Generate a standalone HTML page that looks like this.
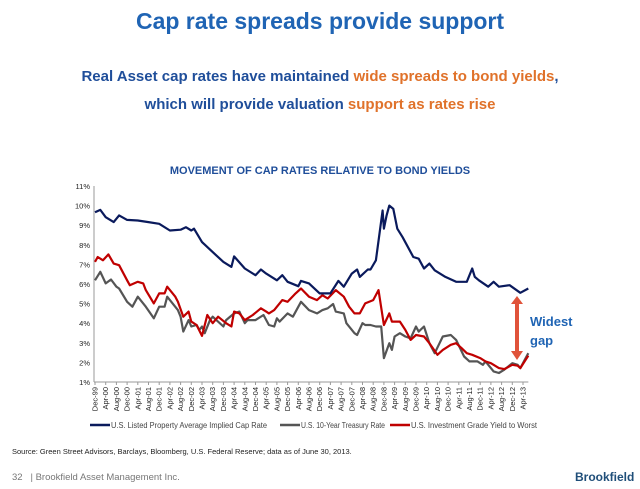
<!DOCTYPE html>
<html><head><meta charset="utf-8"><style>
body{margin:0;width:640px;height:489px;background:#fff;font-family:"Liberation Sans",sans-serif;overflow:hidden;position:relative}
.t{position:absolute;white-space:nowrap}
</style></head><body>
<div class="t" style="left:0;width:640px;text-align:center;top:8px;font-size:23px;font-weight:bold;color:#1F64B4">Cap rate spreads provide support</div>
<div class="t" style="left:0;width:640px;text-align:center;top:68px;font-size:15px;font-weight:bold;color:#1F4E9A">Real Asset cap rates have maintained <span style="color:#E0722A">wide spreads to bond yields</span>,</div>
<div class="t" style="left:0;width:640px;text-align:center;top:96px;font-size:15px;font-weight:bold;color:#1F4E9A">which will provide valuation <span style="color:#E0722A">support as rates rise</span></div>
<div class="t" style="left:0;width:640px;text-align:center;top:165px;font-size:11px;font-weight:bold;color:#1F4E9A">MOVEMENT OF CAP RATES RELATIVE TO BOND YIELDS</div>
<svg id="chart" width="640" height="489" style="position:absolute;left:0;top:0"></svg>
<div class="t" style="left:530px;top:312px;font-size:13px;font-weight:bold;color:#1F64B4;line-height:19px">Widest<br>gap</div>
<div class="t" style="left:12px;top:447px;font-size:7.5px;color:#222">Source: Green Street Advisors, Barclays, Bloomberg, U.S. Federal Reserve; data as of June 30, 2013.</div>
<div class="t" style="left:12px;top:472px;font-size:9.5px;color:#777">32 &nbsp;&nbsp;| Brookfield Asset Management Inc.</div>
<div class="t" style="left:575px;top:470px;font-size:12px;font-weight:bold;color:#1F4E79">Brookfield</div>
<script>
const yTicks=[1,2,3,4,5,6,7,8,9,10,11];
const xLabels=["Dec-99","Apr-00","Aug-00","Dec-00","Apr-01","Aug-01","Dec-01","Apr-02","Aug-02","Dec-02","Apr-03","Aug-03","Dec-03","Apr-04","Aug-04","Dec-04","Apr-05","Aug-05","Dec-05","Apr-06","Aug-06","Dec-06","Apr-07","Aug-07","Dec-07","Apr-08","Aug-08","Dec-08","Apr-09","Aug-09","Dec-09","Apr-10","Aug-10","Dec-10","Apr-11","Aug-11","Dec-11","Apr-12","Aug-12","Dec-12","Apr-13"];
const capMonths=[0,2,4,7,9,12,16,20,24,28,32,34,36,37,40,44,48,51,52,56,60,62,64,68,70,72,76,77,80,84,88,91,93,96,98,99,102,103,105,107.5,108,109,110,111.5,113,115,119,121,123,125,127,131,135,139,141,142,143.5,147,149,151,155,159,162];
const capRate=[9.66,9.78,9.41,9.16,9.5,9.27,9.24,9.16,9.07,8.73,8.77,8.9,8.73,8.82,8.14,7.63,7.13,6.87,7.41,6.79,6.45,6.74,6.53,6.19,6.45,6.11,5.89,6.16,6.03,5.52,5.52,6.16,5.86,6.53,6.74,6.36,6.74,6.74,7.21,9.75,8.82,9.5,10.0,9.83,8.82,8.39,7.38,7.29,6.79,7.04,6.70,6.36,6.11,6.11,6.79,6.36,6.19,5.86,6.11,5.86,5.94,5.55,5.77];
const tsyMonths=[0,2,4,6,8,9,12,14,16,19,22,24,26,27,31,32,33,35,36,38,39,40,41,43,44,48,49,52,54,56,57,60,63,65,67,68,69,72,74,77,80,83,85,87,89,90,93,94,97,98,100,101,103,105,107,108,110,111,112,114,116,118,120,121,123,125,127,130,133,135,138,140,143,145,146,149,151,153,156,158,159,162];
const tsyRate=[6.19,6.62,6.03,6.23,5.86,5.77,5.09,4.84,5.35,4.84,4.25,4.84,4.84,5.35,4.67,4.33,3.57,4.16,3.83,3.91,3.66,3.83,3.49,4.16,4.33,3.83,4.16,4.50,4.59,4.0,4.16,4.16,4.42,3.91,3.83,4.25,4.08,4.50,4.33,5.09,4.67,4.50,4.67,4.76,4.98,4.59,4.50,4.0,3.49,3.40,4.0,3.91,3.91,3.83,3.83,2.22,2.98,2.64,3.32,3.49,3.32,3.23,3.83,3.57,3.83,2.98,2.47,3.32,3.40,3.15,2.30,2.05,2.05,1.88,2.05,1.54,1.46,1.63,1.96,1.88,1.71,2.47];
const igMonths=[0,1,3,5,7,9,12,13,16,18,19,22,24,26,27,30,31,33,35,36,38,40,42,44,46,49,51,52,54,56,59,62,64,65,67,70,72,75,77,80,83,85,87,90,93,95,97,99,101,104,106,108,110,111,114,116,118,120,123,125,128,130,133,135,137,139,141,144,146,148,151,153,156,158,159,162];
const igYield=[7.13,7.38,7.21,7.51,7.04,6.96,6.19,5.94,6.11,6.03,5.69,5.01,5.52,5.52,5.86,5.35,5.09,4.33,4.59,4.08,3.91,3.35,4.42,4.0,4.33,4.0,3.83,4.59,4.50,4.16,4.42,4.76,4.59,4.50,4.67,5.18,5.09,5.52,5.77,5.35,5.18,5.43,5.26,5.69,5.35,4.84,4.50,4.50,5.01,5.18,5.69,3.91,4.50,4.08,4.08,3.66,3.15,3.40,3.32,2.98,2.39,2.64,2.90,2.98,2.73,2.47,2.39,2.22,2.05,1.96,1.71,1.66,1.88,1.83,1.71,2.34];
const legendNames=["U.S. Listed Property Average Implied Cap Rate","U.S. 10-Year Treasury Rate","U.S. Investment Grade Yield to Worst"];

const svg=document.getElementById('chart');const NS='http://www.w3.org/2000/svg';
const X0=95,PX=2.675,Y0=382,PY=19.6;
const xs=m=>X0+m*PX, ys=v=>Y0-(v-1)*PY;
function mk(t,a){const e=document.createElementNS(NS,t);for(const k in a)e.setAttribute(k,a[k]);svg.appendChild(e);return e;}
let ax=mk('line',{x1:94,y1:ys(11),x2:94,y2:Y0,stroke:'#999','stroke-width':1});


let bx=mk('line',{x1:94,y1:Y0,x2:xs(162),y2:Y0,stroke:'#999','stroke-width':1});


yTicks.forEach(v=>{const t=mk('text',{x:90,y:ys(v)+3,'text-anchor':'end','font-size':'7.5','fill':'#222'});t.textContent=v+'%';

});
xLabels.forEach((l,i)=>{const x=xs(i*4);mk('line',{x1:x,y1:Y0,x2:x,y2:Y0+3,stroke:'#999'});
const t=mk('text',{x:0,y:0,'text-anchor':'end','font-size':'7.5','fill':'#222',transform:`translate(${x+2.5},${Y0+5}) rotate(-90)`});t.textContent=l;

});
function line(ms,vs,c,n){const d=ms.map((m,i)=>(i?'L':'M')+xs(m).toFixed(1)+','+ys(vs[i]).toFixed(1)).join('');
const p=mk('path',{d:d,fill:'none',stroke:c,'stroke-width':2.2,'stroke-linejoin':'round'});

}
line(tsyMonths,tsyRate,'#555555','treasury-rate-line');
line(igMonths,igYield,'#C00000','ig-yield-line');
line(capMonths,capRate,'#0A1A5C','cap-rate-line');
const arr=mk('path',{d:'M517,296 L523,304 L519,304 L519,351 L523,351 L517,360 L511,351 L515,351 L515,304 L511,304 Z',fill:'#E0533A'});


const lx=[110,300,410],lw=[156,84,126],cols=['#0A1A5C','#555555','#C00000'];
legendNames.forEach((n,i)=>{mk('line',{x1:lx[i]-20,y1:425,x2:lx[i],y2:425,stroke:cols[i],'stroke-width':2.5});
const t=mk('text',{x:lx[i]+1,y:428,'font-size':'7.8','fill':'#444',textLength:lw[i],lengthAdjust:'spacingAndGlyphs'});t.textContent=n;

});
</script>
</body></html>
